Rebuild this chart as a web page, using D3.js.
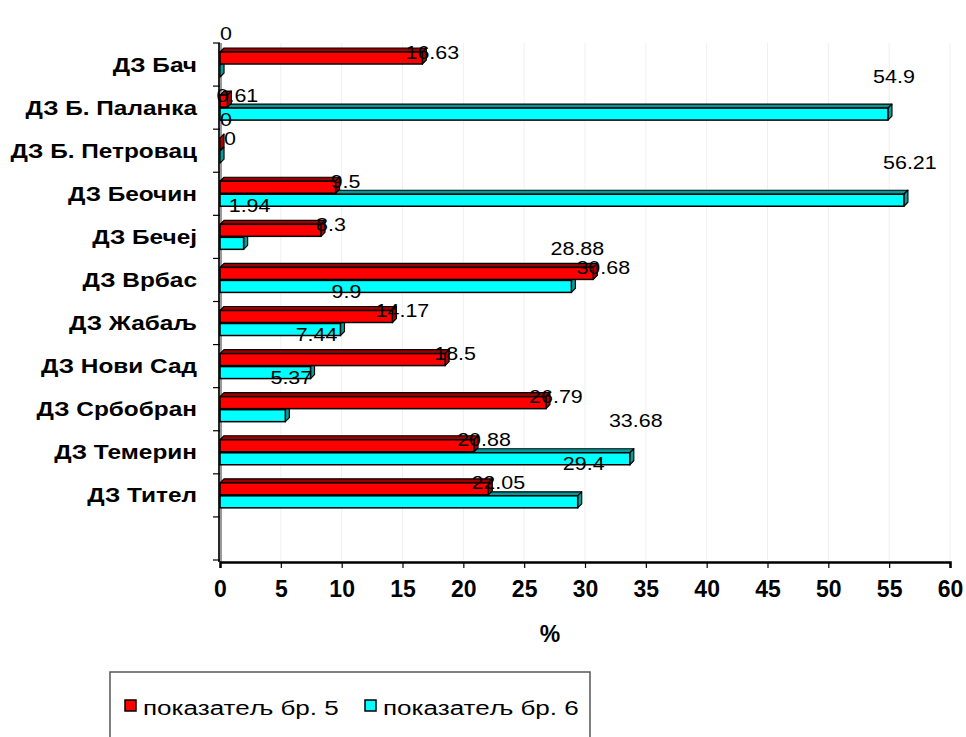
<!DOCTYPE html>
<html><head><meta charset="utf-8">
<script src="https://cdn.jsdelivr.net/npm/d3@7"></script>
<style>body{margin:0;background:#fff}svg{display:block}</style>
</head><body>
<script>
const categories = ["ДЗ Бач","ДЗ Б. Паланка","ДЗ Б. Петровац","ДЗ Беочин","ДЗ Бечеј","ДЗ Врбас","ДЗ Жабаљ","ДЗ Нови Сад","ДЗ Србобран","ДЗ Темерин","ДЗ Тител"];
const series5 = [16.63,0.61,0,9.5,8.3,30.68,14.17,18.5,26.79,20.88,22.05];
const series6 = [0,54.9,0,56.21,1.94,28.88,9.9,7.44,5.37,33.68,29.4];
const seriesNames = ["показатељ бр. 5","показатељ бр. 6"];
const xTicks = [0,5,10,15,20,25,30,35,40,45,50,55,60];
const axisTitle = "%";

const W=966,H=737;
const lf="Liberation Sans, Arial, sans-serif";
const svg=d3.select("body").append("svg").attr("width",W).attr("height",H);
const x=d3.scaleLinear().domain([0,60]).range([220,950]);
const slots=categories.concat([""]);
const y=d3.scaleBand().domain(slots).range([43,560]).padding(0);
const bw=y.bandwidth();
const colors={s5:{front:"#ff0000",top:"#990000",side:"#b00000"},s6:{front:"#00ffff",top:"#009999",side:"#00a0a0"}};
const D=4;

function stext(g,tx,ty,str,opts){
  const t=g.append("text").attr("transform",`translate(${tx},${ty}) scale(${opts.sx||1},${opts.sy||1})`)
    .attr("dy","0.35em").attr("text-anchor",opts.anchor||"start")
    .attr("font-family",lf).attr("font-size",opts.size+"px").attr("fill","#000").text(str);
  if(opts.bold) t.attr("font-weight","bold");
  return t;
}

// gridlines
svg.append("g").selectAll("line").data(xTicks.slice(1)).join("line")
  .attr("x1",d=>x(d)).attr("x2",d=>x(d)).attr("y1",43).attr("y2",560)
  .attr("stroke","#f0f0f0").attr("stroke-width",1);

// left wall
svg.append("line").attr("x1",220).attr("x2",220).attr("y1",43).attr("y2",562).attr("stroke","#999").attr("stroke-width",4);
svg.append("line").attr("x1",219).attr("x2",219).attr("y1",43).attr("y2",562).attr("stroke","#000").attr("stroke-width",1.5);

const data=categories.map((c,i)=>({c,v5:series5[i],v6:series6[i]}));

function bar3d(g,x0,x1,yt,h,col){
  const p=(pts)=>pts.map(q=>q.join(",")).join(" ");
  g.append("polygon").attr("points",p([[x0,yt],[x1,yt],[x1+D,yt-D],[x0+D,yt-D]]))
    .attr("fill",col.top).attr("stroke","#000").attr("stroke-width",1.2).attr("stroke-linejoin","round");
  g.append("polygon").attr("points",p([[x1,yt],[x1+D,yt-D],[x1+D,yt+h-D],[x1,yt+h]]))
    .attr("fill",col.side).attr("stroke","#000").attr("stroke-width",1.2).attr("stroke-linejoin","round");
  g.append("rect").attr("x",x0).attr("y",yt).attr("width",Math.max(0,x1-x0)).attr("height",h)
    .attr("fill",col.front).attr("stroke","#000").attr("stroke-width",1.5);
}
const gb=svg.append("g");
data.forEach(d=>{
  const b=y(d.c);
  bar3d(gb,x(0),x(d.v6),b+22,12,colors.s6);
  bar3d(gb,x(0),x(d.v5),b+9,12,colors.s5);
});

// x axis
const xa=svg.append("g").attr("transform","translate(0,562)")
  .call(d3.axisBottom(x).tickValues(xTicks).tickSize(6).tickPadding(13).tickFormat(d3.format("d")));
xa.select(".domain").attr("stroke","#000").attr("stroke-width",2.5);
xa.selectAll(".tick line").attr("stroke","#000").attr("stroke-width",1.2);
xa.selectAll("text").attr("font-family",lf).attr("font-weight","bold").attr("font-size","23px").attr("fill","#000");

// y axis ticks
svg.append("g").selectAll("line").data(d3.range(slots.length+1)).join("line")
  .attr("x1",213).attr("x2",220).attr("y1",i=>43+i*bw).attr("y2",i=>43+i*bw).attr("stroke","#000").attr("stroke-width",1.2);

// category labels
const gc=svg.append("g");
categories.forEach(c=>stext(gc,197,y(c)+bw/2,c,{size:20,bold:true,anchor:"end",sx:1.22}));

// axis title
stext(svg,550,634,axisTitle,{size:23,bold:true,anchor:"middle"});

// value labels
const gv=svg.append("g");
data.forEach(d=>{
  stext(gv,x(d.v5)+10,y(d.c)+9,String(d.v5),{size:19,anchor:"middle",sx:1.13});
  stext(gv,x(d.v6)+6,y(d.c)+28-38,String(d.v6),{size:19,anchor:"middle",sx:1.13});
});

// legend
const lg=svg.append("g");
lg.append("rect").attr("x",110).attr("y",672).attr("width",480).attr("height",80).attr("fill","#fff").attr("stroke","#555").attr("stroke-width",1.5);
const items=[{n:seriesNames[0],c:colors.s5.front,x:125},{n:seriesNames[1],c:colors.s6.front,x:365}];
items.forEach(it=>{
  lg.append("rect").attr("x",it.x).attr("y",700).attr("width",11).attr("height",11).attr("fill",it.c).attr("stroke","#000").attr("stroke-width",1.5);
  stext(lg,it.x+18,708,it.n,{size:21,sx:1.24});
});
</script>
</body></html>
